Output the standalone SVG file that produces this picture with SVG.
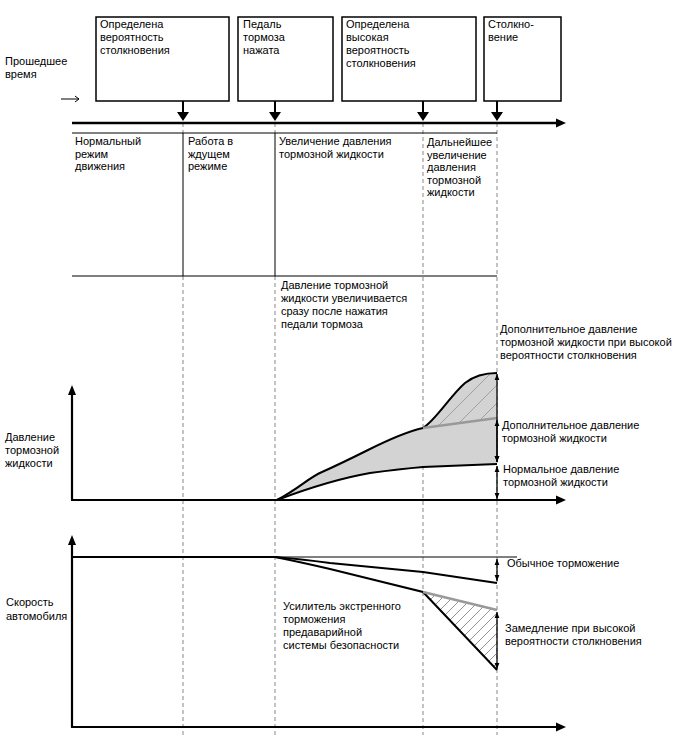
<svg xmlns="http://www.w3.org/2000/svg" width="688" height="755" viewBox="0 0 688 755">
<style>
text{font-family:"Liberation Sans",Arial,sans-serif;font-size:11px;fill:#000}
.box{fill:#fff;stroke:#000;stroke-width:1.5}
.thin{stroke:#000;stroke-width:1;fill:none}
.dash{stroke:#888;stroke-width:1;stroke-dasharray:4,3;fill:none}
.axis{stroke:#000;stroke-width:2.2;fill:none}
.curve{stroke:#000;stroke-width:2;fill:none}
.grey{stroke:#999;stroke-width:2.5;fill:none}
.dim{stroke:#000;stroke-width:1.3;fill:none;marker-start:url(#dh);marker-end:url(#dh)}
</style>
<defs>
<marker id="dh" viewBox="0 0 10 10" refX="10" refY="5" markerWidth="6" markerHeight="6" orient="auto-start-reverse" markerUnits="userSpaceOnUse"><path d="M0,1 L10,5 L0,9 z" fill="#000"/></marker>
<pattern id="hatch" patternUnits="userSpaceOnUse" width="10" height="10"><path d="M-2,2 L2,-2 M0,10 L10,0 M8,12 L12,8" stroke="#888" stroke-width="0.9"/></pattern>
<pattern id="hatchWide" patternUnits="userSpaceOnUse" width="18" height="18"><path d="M-2,2 L2,-2 M0,18 L18,0 M16,20 L20,16" stroke="#999" stroke-width="0.9"/></pattern>
</defs>
<rect width="688" height="755" fill="#fff"/>

<g id="grid">
<line class="dash" x1="183" y1="123" x2="183" y2="133"/>
<line class="dash" x1="275" y1="123" x2="275" y2="133"/>
<line class="thin" x1="183" y1="133" x2="183" y2="276"/>
<line class="thin" x1="275" y1="133" x2="275" y2="276"/>
<line class="dash" x1="183" y1="276" x2="183" y2="735"/>
<line class="dash" x1="275" y1="276" x2="275" y2="735"/>
<line class="dash" x1="423" y1="123" x2="423" y2="735"/>
<line class="dash" x1="497" y1="123" x2="497" y2="735"/>
<line class="thin" x1="72" y1="133" x2="497" y2="133" stroke="#555"/>
<line class="thin" x1="72" y1="276" x2="497" y2="276" stroke="#555"/>
</g>

<g id="timeline">
<line x1="72" y1="123" x2="557" y2="123" stroke="#000" stroke-width="2.5"/>
<path d="M556,118.5 L566,123 L556,127.5 z" fill="#000"/>
<path d="M61,99 L79,99 M75,96 L79,99 L75,102" stroke="#000" stroke-width="1" fill="none"/>
<text x="5" y="65">Прошедшее</text>
<text x="5" y="78">время</text>
</g>

<g id="box1">
<rect class="box" x="96" y="17" width="133" height="84"/>
<text x="100" y="28">Определена</text>
<text x="100" y="41">вероятность</text>
<text x="100" y="54">столкновения</text>
</g>
<g id="box2">
<rect class="box" x="238" y="17" width="95" height="84"/>
<text x="243" y="28">Педаль</text>
<text x="243" y="41">тормоза</text>
<text x="243" y="54">нажата</text>
</g>
<g id="box3">
<rect class="box" x="342" y="17" width="134" height="84"/>
<text x="346" y="28">Определена</text>
<text x="346" y="41">высокая</text>
<text x="346" y="54">вероятность</text>
<text x="346" y="67">столкновения</text>
</g>
<g id="box4">
<rect class="box" x="484" y="17" width="77" height="84"/>
<text x="488" y="28">Столкно-</text>
<text x="488" y="41">вение</text>
</g>

<g id="connectors">
<line x1="183" y1="101" x2="183" y2="113" stroke="#000" stroke-width="2"/>
<path d="M177,112 L189,112 L183,121 z" fill="#000"/>
<line x1="275" y1="101" x2="275" y2="113" stroke="#000" stroke-width="2"/>
<path d="M269,112 L281,112 L275,121 z" fill="#000"/>
<line x1="423" y1="101" x2="423" y2="113" stroke="#000" stroke-width="2"/>
<path d="M417,112 L429,112 L423,121 z" fill="#000"/>
<line x1="497" y1="101" x2="497" y2="113" stroke="#000" stroke-width="2"/>
<path d="M491,112 L503,112 L497,121 z" fill="#000"/>
</g>

<g id="phases">
<text x="75" y="145">Нормальный</text>
<text x="75" y="157.5">режим</text>
<text x="75" y="170">движения</text>
<text x="188" y="145">Работа в</text>
<text x="188" y="157.5">ждущем</text>
<text x="188" y="170">режиме</text>
<text x="279" y="145">Увеличение давления</text>
<text x="279" y="157.5">тормозной жидкости</text>
<text x="427" y="146">Дальнейшее</text>
<text x="427" y="158.5">увеличение</text>
<text x="427" y="171">давления</text>
<text x="427" y="183.5">тормозной</text>
<text x="427" y="196">жидкости</text>
</g>

<g id="pressure-graph">
<path d="M277,500 C300,488 308,478 322,472 C340,464 352,458 368,450 C388,440 405,432 423,428 L497,418 L497,464 L423,467 Q400,469 370,473 Q330,480 277,500 z" fill="#d3d3d3"/>
<path d="M423,428 C436,420 450,396 465,383 C475,375 486,373 497,373 L497,418 z" fill="#d3d3d3"/>
<path d="M423,428 C436,420 450,396 465,383 C475,375 486,373 497,373 L497,418 z" fill="url(#hatchWide)"/>
<path class="curve" d="M277,500 C300,488 308,478 322,472 C340,464 352,458 368,450 C388,440 405,432 423,428 C436,420 450,396 465,383 C475,375 486,373 497,373"/>
<path class="curve" d="M277,500 Q330,480 370,473 Q400,469 423,467 L497,464"/>
<path class="grey" d="M423,428 L497,418"/>
<line class="axis" x1="72" y1="500" x2="72" y2="393"/>
<path d="M68,395 L72,385 L76,395 z" fill="#000"/>
<line class="axis" x1="71" y1="500" x2="557" y2="500"/>
<path d="M556,495.5 L566,500 L556,504.5 z" fill="#000"/>
<line class="dim" x1="497" y1="374" x2="497" y2="462"/>
<line class="dim" x1="497" y1="420" x2="497" y2="462"/>
<line class="dim" x1="497" y1="466" x2="497" y2="499"/>
<text x="5" y="441">Давление</text>
<text x="5" y="454">тормозной</text>
<text x="5" y="467">жидкости</text>
<text x="281" y="289">Давление тормозной</text>
<text x="281" y="302">жидкости увеличивается</text>
<text x="281" y="315">сразу после нажатия</text>
<text x="281" y="328">педали тормоза</text>
<text x="500" y="333">Дополнительное давление</text>
<text x="500" y="346">тормозной жидкости при высокой</text>
<text x="500" y="359">вероятности столкновения</text>
<text x="502" y="429">Дополнительное давление</text>
<text x="502" y="442">тормозной жидкости</text>
<text x="503" y="473">Нормальное давление</text>
<text x="503" y="486">тормозной жидкости</text>
</g>

<g id="speed-graph">
<path d="M423,592 L497,610 L497,670 z" fill="url(#hatch)"/>
<line class="thin" x1="275" y1="557" x2="517" y2="557"/>
<line class="axis" x1="72" y1="557" x2="275" y2="557"/>
<path class="curve" d="M275,557 Q300,559 330,563 L423,572 L497,583"/>
<path class="curve" d="M275,557 Q300,562 330,569 L423,592 L497,670"/>
<path class="grey" d="M423,592 L497,610"/>
<line class="axis" x1="72" y1="727" x2="72" y2="543"/>
<path d="M68,545 L72,535 L76,545 z" fill="#000"/>
<line class="axis" x1="71" y1="727" x2="557" y2="727"/>
<path d="M556,722.5 L566,727 L556,731.5 z" fill="#000"/>
<line class="dim" x1="497" y1="559" x2="497" y2="581"/>
<line class="dim" x1="497" y1="612" x2="497" y2="669"/>
<text x="6" y="606">Скорость</text>
<text x="6" y="620">автомобиля</text>
<text x="507" y="567">Обычное торможение</text>
<text x="505" y="632">Замедление при высокой</text>
<text x="505" y="645">вероятности столкновения</text>
<text x="283" y="610">Усилитель экстренного</text>
<text x="283" y="623">торможения</text>
<text x="283" y="636">предаварийной</text>
<text x="283" y="649">системы безопасности</text>
</g>
</svg>
